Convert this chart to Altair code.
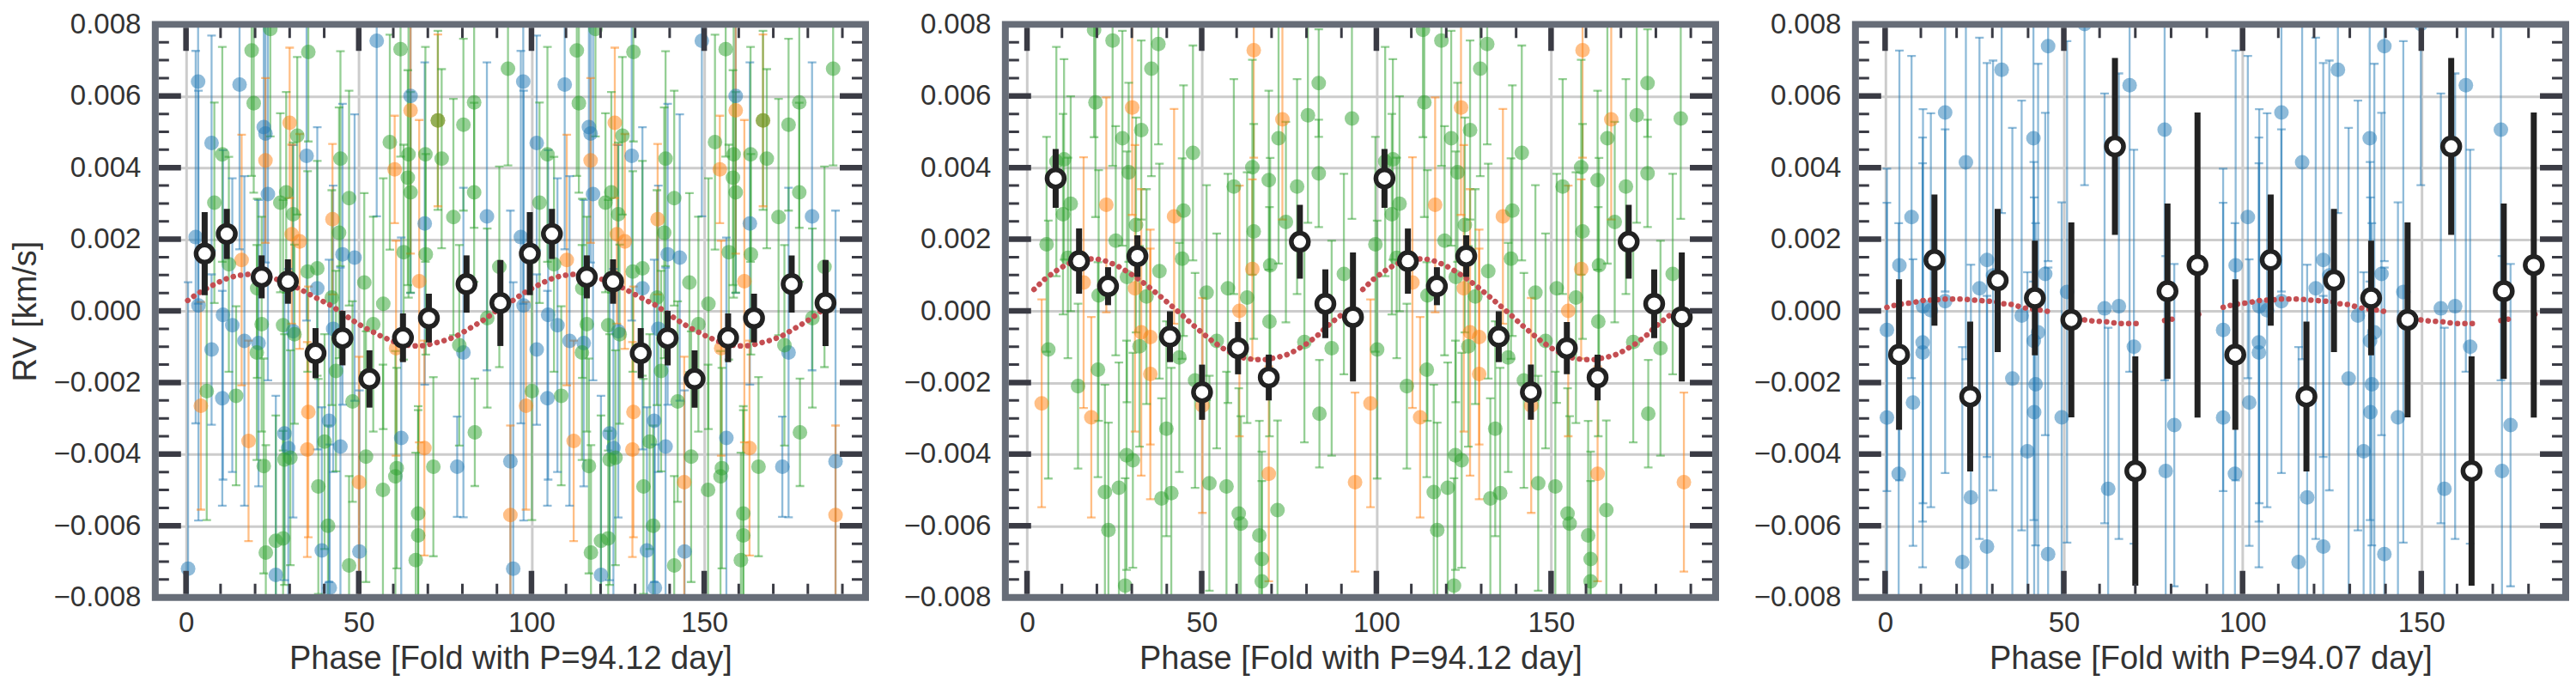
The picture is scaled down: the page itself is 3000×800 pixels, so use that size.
import altair as alt
import pandas as pd

# ---------------------------------------------------------------- data
# Panel 1 : fold with P = 94.12 d (three instruments)
P1 = 94.12
p1_blue_phase = [3.5, 2.8, 7.4, 15.5, 22.5, 23.0, 34.9, 23.7, 45.3, 48.8, 38.0, 55.2, 65.0, 69.1, 87.1,
                 3.6, 10.7, 13.4, 7.4, 16.9, 21.0, 31.0, 10.5, 28.5, 29.6, 41.4, 44.7, 42.6, 62.3, 78.5,
                 80.3, 93.9, 26.0, 39.3, 50.2, 41.6, 0.6]
p1_blue_rv = [0.0064, 0.00206, 0.00469, 0.00632, 0.00513, 0.00495, 0.00433, 0.00326, 0.00158, 0.00149,
              0.00063, 0.00754, 0.0060, 0.00244, 0.00264, 0.00015, -0.00011, -0.0004, -0.00108, -0.00084,
              -0.0009, -0.00057, -0.00244, -0.00342, -0.00383, -0.00307, -0.00379, -0.0005, -0.00355,
              -0.00435, -0.00116, -0.0042, -0.00737, -0.00669, -0.00672, -0.00773, -0.0072]
p1_blue_err = [0.0062, 0.0052, 0.0030, 0.0046, 0.0040, 0.0036, 0.0046, 0.0052, 0.0042, 0.0040, 0.0045,
               0.0049, 0.0055, 0.0045, 0.0043, 0.0060, 0.0046, 0.0041, 0.0021, 0.0046, 0.0040, 0.0052,
               0.0030, 0.0041, 0.0050, 0.0045, 0.0050, 0.0040, 0.0056, 0.0014, 0.0046, 0.0070, 0.0050,
               0.0040, 0.0045, 0.0040, 0.0080]

p1_orange_phase = [23.0, 30.0, 42.4, 30.6, 32.9, 16.1, 65.0, 72.9, 60.4, 67.5, 4.3, 18.1, 35.4, 35.1,
                   50.1, 69.0, 60.8, 93.9]
p1_orange_rv = [0.0042, 0.00525, 0.00256, 0.00214, 0.00194, 0.00142, 0.0056, 0.00532, 0.00395, 0.00083,
                -0.00265, -0.00363, -0.00282, -0.00387, -0.00478, -0.00383, -0.00104, -0.0057]
p1_orange_err = [0.0023, 0.0021, 0.0021, 0.0025, 0.0030, 0.0035, 0.0040, 0.0024, 0.0015, 0.0045, 0.0029,
                 0.0028, 0.0035, 0.0030, 0.0035, 0.0030, 0.0030, 0.0025]

p1_green_phase = [10.5, 19.0, 19.6, 24.4, 32.2, 35.4, 44.7, 47.2, 29.0, 27.3,
                  8.2, 31.0, 44.3, 12.4, 35.2, 38.0, 51.6, 20.6, 42.2, 57.1,
                  62.1, 72.9, 80.3, 83.4, 93.2, 59.0, 64.4, 69.3, 74.0, 64.2,
                  65.0, 83.4, 77.4, 63.0, 69.4, 90.7, 21.9, 28.1, 31.4, 20.5,
                  6.0, 14.5, 22.5, 28.5, 30.2, 40.1, 48.2, 52.1, 38.3, 57.0,
                  60.6, 61.0, 71.6, 83.6, 87.2, 79.1, 54.2, 43.4, 23.1, 26.0,
                  28.1, 41.1, 47.2, 67.2, 67.2, 66.5]
p1_green_rv = [0.00437, 0.00727, 0.0058, 0.00787, 0.00489, 0.00723, 0.00425, 0.00315, 0.00331, 0.00302,
               0.00302, 0.0027, 0.00218, 0.0013, 0.0011, 0.00119, 0.00079, 0.00063, 0.00037, 0.0002,
               0.00731, 0.00532, 0.0052, 0.00582, 0.00676, 0.00471, 0.00437, 0.00437, 0.00425, 0.00372,
               0.00331, 0.00331, 0.00262, 0.00164, 0.00158, 0.00123, -0.00037, -0.0004, -0.00065, -0.00116,
               -0.00224, -0.00237, -0.00433, -0.00415, -0.0041, -0.00365, -0.00253, -0.00407, -0.0049, -0.005,
               -0.00462, -0.00439, -0.00435, -0.00339, -0.0002, -0.00096, -0.00037, -0.00168, -0.00675, -0.00642,
               -0.00635, -0.006, -0.00711, -0.00566, -0.00627, -0.00696]
p1_green_err = [0.0030, 0.0035, 0.0025, 0.0030, 0.0022, 0.0025, 0.0030, 0.0030, 0.0028, 0.0025,
                0.0028, 0.0020, 0.0035, 0.0030, 0.0028, 0.0030, 0.0025, 0.0025, 0.0030, 0.0035,
                0.0030, 0.0025, 0.0024, 0.0035, 0.0027, 0.0030, 0.0040, 0.0030, 0.0025, 0.0030,
                0.0028, 0.0025, 0.0033, 0.0030, 0.0028, 0.0028, 0.0030, 0.0035, 0.0025, 0.0030,
                0.0036, 0.0025, 0.0030, 0.0035, 0.0030, 0.0030, 0.0028, 0.0035, 0.0030, 0.0035,
                0.0035, 0.0028, 0.0025, 0.0015, 0.0025, 0.0028, 0.0030, 0.0028, 0.0030, 0.0035,
                0.0030, 0.0028, 0.0025, 0.0030, 0.0035, 0.0030]

p1_bin_phase = [5.4, 11.8, 21.9, 29.5, 37.5, 45.3, 53.1, 62.8, 70.3, 81.2, 91.0]
p1_bin_rv = [0.0016, 0.00215, 0.00095, 0.00082, -0.00118, -0.00076, -0.0019, -0.00075, -0.0002, 0.00075, 0.00022]
p1_bin_err = [0.00116, 0.0007, 0.0006, 0.00062, 0.0007, 0.00076, 0.0008, 0.00068, 0.00068, 0.0008, 0.0012]

p1_model_phase = [0.5, 3, 6, 9, 12, 15, 18, 21, 24, 27, 30, 33, 36, 39, 42, 45, 48, 51, 54, 57, 60, 63,
                  66, 69, 72, 75, 78, 81, 84, 87, 90, 93]
p1_model_rv = [0.00029, 0.00046, 0.00063, 0.00078, 0.00091, 0.00099, 0.00102, 0.00101, 0.00095, 0.00086,
               0.00074, 0.00061, 0.00045, 0.0003, 0.00015, -0.00005, -0.00025, -0.00043, -0.00058, -0.00073,
               -0.00085, -0.00094, -0.00098, -0.00097, -0.0009, -0.00082, -0.00072, -0.00055, -0.00038,
               -0.0002, 0.00002, 0.00022]

# Panel 2 : fold with P = 94.12 d (two instruments)
P2 = 94.12
p2_orange_phase = [30.1, 22.7, 42.1, 16.2, 30.9, 60.8, 64.9, 73.1, 64.5, 4.2, 18.4, 32.7, 35.3, 35.3,
                   50.2, 69.2, 93.9]
p2_orange_rv = [0.00568, 0.00296, 0.00264, 0.00079, 0.00063, 0.0000, 0.00728, 0.00535, 0.00117, -0.00258,
                -0.00297, -0.0006, -0.00073, -0.00176, -0.00264, -0.00455, -0.00478]
p2_orange_err = [0.0030, 0.0030, 0.0030, 0.0035, 0.0040, 0.0035, 0.0030, 0.0028, 0.0025, 0.0029, 0.0028,
                 0.0040, 0.0030, 0.0035, 0.0030, 0.0030, 0.0025]

p2_green_phase = [19.2, 24.5, 37.6, 35.6, 19.6, 27.3, 32.7, 47.5, 10.6, 8.4,
                  29.1, 12.5, 10.3, 44.8, 31.2, 25.4, 5.6, 11.7, 20.5, 34.2,
                  37.9, 28.6, 44.4, 51.4, 57.5, 63.0, 83.5, 93.0, 80.4, 72.0,
                  64.5, 59.2, 69.2, 77.3, 83.5, 74.1, 64.9, 69.6, 90.7, 6.1,
                  14.6, 20.3, 32.2, 39.9, 43.6, 48.1, 54.3, 69.4, 79.4, 87.2,
                  83.7, 71.7, 52.2, 57.1, 60.6, 61.2, 66.5, 67.2, 67.2, 28.5,
                  30.3, 22.3, 26.3, 38.5, 41.3, 23.3, 28.1]
p2_green_rv = [0.00785, 0.00755, 0.00745, 0.00676, 0.00582, 0.00482, 0.00505, 0.00441, 0.00423, 0.00417,
               0.00387, 0.00299, 0.0027, 0.0028, 0.0024, 0.00196, 0.00186, 0.00148, 0.00043, 0.0004,
               0.00111, 0.00095, 0.00146, 0.00051, 0.00063, 0.00037, 0.00636, 0.00537, 0.00546, 0.00482,
               0.00401, 0.00347, 0.00365, 0.00347, 0.00384, 0.00248, 0.00222, 0.00127, 0.00103, -0.00108,
               -0.0021, -0.00164, -0.00099, -0.00329, -0.0013, -0.00194, -0.00084, -0.0003, -0.00087, -0.00104,
               -0.00287, -0.00556, -0.00481, -0.0049, -0.00566, -0.00594, -0.00627, -0.00693, -0.00755, -0.00403,
               -0.00417, -0.00506, -0.00494, -0.00524, -0.00509, -0.00612, -0.00767]
p2_green_err = [0.0030, 0.0035, 0.0028, 0.0030, 0.0032, 0.0030, 0.0025, 0.0030, 0.0028, 0.0032,
                0.0025, 0.0030, 0.0028, 0.0035, 0.0030, 0.0032, 0.0030, 0.0028, 0.0035, 0.0030,
                0.0030, 0.0035, 0.0028, 0.0030, 0.0032, 0.0035, 0.0015, 0.0028, 0.0030, 0.0035,
                0.0030, 0.0030, 0.0025, 0.0030, 0.0015, 0.0028, 0.0030, 0.0030, 0.0028, 0.0036,
                0.0023, 0.0030, 0.0028, 0.0030, 0.0032, 0.0030, 0.0030, 0.0032, 0.0028, 0.0030,
                0.0015, 0.0025, 0.0030, 0.0032, 0.0035, 0.0030, 0.0032, 0.0030, 0.0028, 0.0032,
                0.0030, 0.0030, 0.0035, 0.0028, 0.0035, 0.0030, 0.0030]

p2_bin_phase = [8.2, 14.9, 23.2, 31.6, 40.9, 50.1, 60.4, 69.2, 78.1, 85.4, 93.3]
p2_bin_rv = [0.0037, 0.00139, 0.00069, 0.00153, -0.00072, -0.00227, -0.00104, -0.00186, 0.00193, 0.0002, -0.00017]
p2_bin_err = [0.00082, 0.00091, 0.00053, 0.00058, 0.00071, 0.00077, 0.00073, 0.00064, 0.00103, 0.00096, 0.0018]

p2_model_phase = [2, 5, 8, 11, 14, 17, 20, 23, 26, 29, 32, 35, 38, 41, 44, 47, 50, 53, 56, 59, 62, 65,
                  68, 71, 74, 77, 80, 83, 86, 89, 92, 94]
p2_model_rv = [0.0006, 0.00088, 0.0011, 0.00128, 0.0014, 0.00145, 0.00145, 0.00138, 0.00125, 0.00108,
               0.00088, 0.00066, 0.00042, 0.00017, -0.00008, -0.00035, -0.0006, -0.00084, -0.00104, -0.0012,
               -0.00131, -0.00136, -0.00136, -0.00131, -0.00124, -0.0011, -0.00092, -0.0007, -0.00042,
               -0.00018, 0.00002, 0.00012]

# Panel 3 : fold with P = 94.07 d (one instrument)
P3 = 94.07
p3_blue_phase = [7.4, 4.0, 16.8, 22.6, 32.6, 45.6, 41.5, 55.8, 68.4, 78.2,
                 28.5, 26.4, 30.2, 44.8, 50.9, 16.8, 10.6, 61.4, 65.4, 0.5,
                 0.5, 3.8, 10.5, 10.5, 7.8, 12.8, 24.0, 21.6, 28.5, 35.6,
                 38.2, 41.6, 42.8, 42.1, 41.7, 39.8, 45.6, 49.4, 69.6, 62.4,
                 78.5, 80.9]
p3_blue_rv = [0.00262, 0.00127, 0.00554, 0.00415, 0.00673, 0.00739, 0.00482, 0.00801, 0.0063, 0.00506,
              0.00142, 0.00063, 0.00099, 0.00103, 0.00053, 0.00027, 0.00013, 0.00007, 0.00013, -0.00053,
              -0.00298, -0.00455, -0.00088, -0.00116, -0.00256, 0.00002, -0.00521, -0.00701, -0.00658, -0.00189,
              -0.00013, -0.00084, -0.0006, -0.00205, -0.00283, -0.00392, -0.00679, -0.00297, -0.001, -0.00497,
              -0.00447, -0.00319]
p3_blue_err = [0.0045, 0.0060, 0.0050, 0.0055, 0.0040, 0.0060, 0.0040, 0.0045, 0.0080, 0.0070,
               0.0055, 0.0070, 0.0060, 0.0045, 0.0070, 0.0048, 0.0055, 0.0060, 0.0065, 0.0045,
               0.0060, 0.0070, 0.0050, 0.0060, 0.0040, 0.0055, 0.0065, 0.0060, 0.0070, 0.0070,
               0.0060, 0.0050, 0.0075, 0.0045, 0.0060, 0.0050, 0.0080, 0.0060, 0.0055, 0.0045,
               0.0060, 0.0045]

p3_bin_phase = [3.9, 13.8, 23.8, 31.5, 41.9, 52.1, 64.3, 70.0, 79.0, 87.4]
p3_bin_rv = [-0.00122, 0.00142, -0.00239, 0.00085, 0.00036, -0.00025, 0.00459, -0.00447, 0.00055, 0.00128]
p3_bin_err = [0.0021, 0.00183, 0.00209, 0.002, 0.0016, 0.00272, 0.00247, 0.0032, 0.00245, 0.00426]

p3_model_phase = [0.5, 3.6, 7.7, 10.6, 14.2, 16.8, 19.8, 22.2, 24.0, 26.6, 29.0, 31.4, 32.8, 35.6, 38.2,
                  39.8, 43.0, 45.4, 55.8, 58.0, 61.8, 65.0, 69.0, 71.4, 78.2, 80.9, 87.7, 88.5]
p3_model_rv = [0.0001, 0.00018, 0.00023, 0.00029, 0.00031, 0.00033, 0.00033, 0.00033, 0.00031, 0.00029,
               0.00027, 0.00025, 0.0002, 0.00018, 0.0001, 0.00007, 0.00003, -0.00001, -0.00025, -0.00028,
               -0.0003, -0.00035, -0.00035, -0.00035, -0.00027, -0.00022, -0.00009, -0.00007]

Y_MAJOR = [-0.008, -0.006, -0.004, -0.002, 0.0, 0.002, 0.004, 0.006, 0.008]
Y_MAJOR_INNER = [-0.006, -0.004, -0.002, 0.0, 0.002, 0.004, 0.006]
Y_MINOR = [-0.0075, -0.007, -0.0065, -0.0055, -0.005, -0.0045, -0.0035, -0.003, -0.0025, -0.0015,
           -0.001, -0.0005, 0.0005, 0.001, 0.0015, 0.0025, 0.003, 0.0035, 0.0045, 0.005, 0.0055,
           0.0065, 0.007, 0.0075]
X_MAJOR = [0, 50, 100, 150]
X_MINOR = [10, 20, 30, 40, 60, 70, 80, 90, 110, 120, 130, 140, 160, 170, 180, 190]

SERIES = ["inst A", "inst B", "inst C"]
SERIES_COLORS = ["#1f77b4", "#ff7f0e", "#2ca02c"]

# ---------------------------------------------------------------- style
W, H = 828, 668
FRAME = "#676d78"
TICKC = "#3a3b44"
TEXTC = "#333333"
GRIDC = "#cccccc"
MODELC = "#c44e52"
BINC = "#222222"


def fold_points(series, period):
    rows = []
    for name, ph, rv, er in series:
        for k in (0, 1):
            for a, b, c in zip(ph, rv, er):
                rows.append({"series": name, "phase": a + k * period, "rv": b, "lo": b - c, "hi": b + c})
    return pd.DataFrame(rows)


def fold_bins(ph, rv, er, period):
    rows = []
    for k in (0, 1):
        for a, b, c in zip(ph, rv, er):
            rows.append({"phase": a + k * period, "rv": b, "lo": b - c, "hi": b + c})
    return pd.DataFrame(rows)


def fold_model(ph, rv, period, gap=5.0):
    rows = []
    for k in (0, 1):
        seg, prev = 0, None
        for a, b in zip(ph, rv):
            if prev is not None and a - prev > gap:
                seg += 1
            prev = a
            rows.append({"phase": a + k * period, "rv": b, "seg": f"{k}-{seg}"})
    return pd.DataFrame(rows)


def make_panel(series, bins, model, period, xdom, xtitle, ytitle):
    pts = fold_points(series, period)
    bdf = fold_bins(*bins, period)
    mdf = fold_model(*model, period)

    xs = alt.Scale(domain=xdom, nice=False, zero=False)
    ys = alt.Scale(domain=[-0.008, 0.008], nice=False, zero=False)
    xax = alt.Axis(values=X_MAJOR, title=xtitle)
    if ytitle:
        yax = alt.Axis(values=Y_MAJOR, format=".3f", title=ytitle)
    else:
        yax = alt.Axis(values=Y_MAJOR, format=".3f", title=None)

    X = lambda f: alt.X(f, type="quantitative", scale=xs, axis=xax)
    Y = lambda f: alt.Y(f, type="quantitative", scale=ys, axis=yax)
    col = alt.Color("series:N", scale=alt.Scale(domain=SERIES, range=SERIES_COLORS), legend=None)

    base = alt.Chart(pts)
    err = base.mark_rule(strokeWidth=2.3, opacity=0.5, clip=True).encode(
        x=X("phase"), y=Y("lo"), y2="hi", color=col)
    cap_lo = base.mark_tick(orient="horizontal", size=10, thickness=2.3, opacity=0.5, clip=True).encode(
        x=X("phase"), y=Y("lo"), color=col)
    cap_hi = base.mark_tick(orient="horizontal", size=10, thickness=2.3, opacity=0.5, clip=True).encode(
        x=X("phase"), y=Y("hi"), color=col)
    dots = base.mark_circle(size=290, opacity=0.5, clip=True).encode(
        x=X("phase"), y=Y("rv"), color=col)

    mline = alt.Chart(mdf).mark_line(color=MODELC, strokeWidth=6.5, strokeDash=[0.1, 8.5],
                                     strokeCap="round", clip=True).encode(
        x=X("phase"), y=Y("rv"), detail="seg:N")

    berr = alt.Chart(bdf).mark_rule(color=BINC, strokeWidth=7, clip=True).encode(
        x=X("phase"), y=Y("lo"), y2="hi")
    bdot = alt.Chart(bdf).mark_circle(fill="white", stroke=BINC, strokeWidth=5.5, size=400,
                                      opacity=1, clip=True).encode(x=X("phase"), y=Y("rv"))

    def xt(vals, y0, y1, w):
        return alt.Chart(pd.DataFrame({"t": vals})).mark_rule(color=TICKC, strokeWidth=w, clip=True).encode(
            x=X("t"), y=alt.value(y0), y2=alt.value(y1))

    def yt(vals, x0, x1, w):
        return alt.Chart(pd.DataFrame({"t": vals})).mark_rule(color=TICKC, strokeWidth=w, clip=True).encode(
            y=Y("t"), x=alt.value(x0), x2=alt.value(x1))

    ticks = [
        xt(X_MAJOR, H - 4, H - 31, 6.5), xt(X_MAJOR, 4, 31, 6.5),
        xt(X_MINOR, H - 4, H - 16, 3), xt(X_MINOR, 4, 16, 3),
        yt(Y_MAJOR_INNER, 4, 30, 6.5), yt(Y_MAJOR_INNER, W - 4, W - 30, 6.5),
        yt(Y_MINOR, 4, 16, 3), yt(Y_MINOR, W - 4, W - 16, 3),
    ]

    frame = alt.Chart(pd.DataFrame({"t": [0]})).mark_rect(fillOpacity=0, stroke=FRAME, strokeWidth=8).encode(
        x=alt.value(0), x2=alt.value(W), y=alt.value(0), y2=alt.value(H))

    return alt.layer(err, cap_lo, cap_hi, dots, mline, berr, bdot, *ticks, frame).properties(width=W, height=H)


panel1 = make_panel(
    [(SERIES[0], p1_blue_phase, p1_blue_rv, p1_blue_err),
     (SERIES[1], p1_orange_phase, p1_orange_rv, p1_orange_err),
     (SERIES[2], p1_green_phase, p1_green_rv, p1_green_err)],
    (p1_bin_phase, p1_bin_rv, p1_bin_err),
    (p1_model_phase, p1_model_rv),
    P1, [-8.9, 196.7], "Phase [Fold with P=94.12 day]", "RV [km/s]")

panel2 = make_panel(
    [(SERIES[1], p2_orange_phase, p2_orange_rv, p2_orange_err),
     (SERIES[2], p2_green_phase, p2_green_rv, p2_green_err)],
    (p2_bin_phase, p2_bin_rv, p2_bin_err),
    (p2_model_phase, p2_model_rv),
    P2, [-6.2, 197.1], "Phase [Fold with P=94.12 day]", "")

panel3 = make_panel(
    [(SERIES[0], p3_blue_phase, p3_blue_rv, p3_blue_err)],
    (p3_bin_phase, p3_bin_rv, p3_bin_err),
    (p3_model_phase, p3_model_rv),
    P3, [-8.3, 190.4], "Phase [Fold with P=94.07 day]", "")

chart = alt.hconcat(panel1, panel2, panel3, spacing=40).properties(
    padding={"left": 4, "top": 4, "right": 0, "bottom": 0}
).configure(
    font="Liberation Sans"
).configure_axis(
    labelFontSize=33, titleFontSize=38, labelColor=TEXTC, titleColor=TEXTC,
    titleFontWeight="normal", labelFont="Liberation Sans", titleFont="Liberation Sans",
    grid=True, gridColor=GRIDC, gridWidth=3, ticks=False, tickSize=0, domain=False,
    labelFlush=False
).configure_axisY(
    labelPadding=17, titlePadding=12, minExtent=119, maxExtent=119
).configure_axisX(
    labelPadding=14, titlePadding=6
).configure_view(strokeWidth=0)

chart.save("out.html", embed_options={"renderer": "svg", "actions": False})
